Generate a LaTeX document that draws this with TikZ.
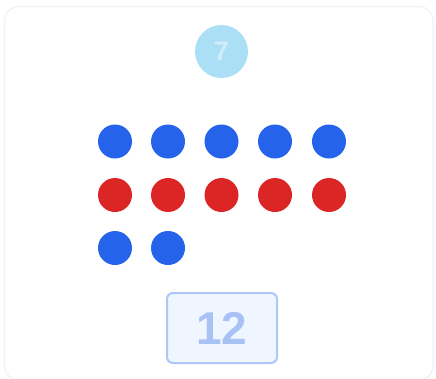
\documentclass[tikz,border=0pt]{standalone}
\usepackage{fontspec}
\setmainfont{Liberation Sans}
\definecolor{dotblue}{HTML}{2563EB}
\definecolor{dotred}{HTML}{DC2626}
\definecolor{badge}{HTML}{ABDFF6}
\definecolor{boxfill}{HTML}{EFF6FF}
\definecolor{boxline}{HTML}{ADC7F8}
\definecolor{boxtext}{HTML}{A8C2F5}
\definecolor{frame}{HTML}{F3F3F7}
\begin{document}
\begin{tikzpicture}[x=1pt,y=-1pt,
  bdot/.style={circle,fill=dotblue,minimum size=34pt,inner sep=0pt},
  rdot/.style={circle,fill=dotred,minimum size=34pt,inner sep=0pt}]
\useasboundingbox (0,0) rectangle (436,378);
\begin{scope}
\clip (0,0) rectangle (436,378);
\draw[frame,line width=1.5pt,rounded corners=14pt] (4.5,6.5) rectangle (433,380);
\end{scope}
\node[circle,fill=badge,minimum size=53pt,inner sep=0pt,
  text=white,text opacity=0.45,font=\bfseries\fontsize{27}{27}\selectfont] (badge) at (221.5,51.5) {7};
\foreach \i/\x in {1/115,2/168,3/221.5,4/275,5/329}{
  \node[bdot] (b\i) at (\x,141.5) {};
  \node[rdot] (r\i) at (\x,195) {};
}
\node[bdot] (c1) at (115,248) {};
\node[bdot] (c2) at (168,248) {};
\node[draw=boxline,line width=2pt,fill=boxfill,rounded corners=6pt,
  minimum width=110pt,minimum height=70pt,inner sep=0pt,
  text=boxtext,font=\bfseries\fontsize{46}{46}\selectfont] (total) at (222,328) {12};
\end{tikzpicture}
\end{document}
